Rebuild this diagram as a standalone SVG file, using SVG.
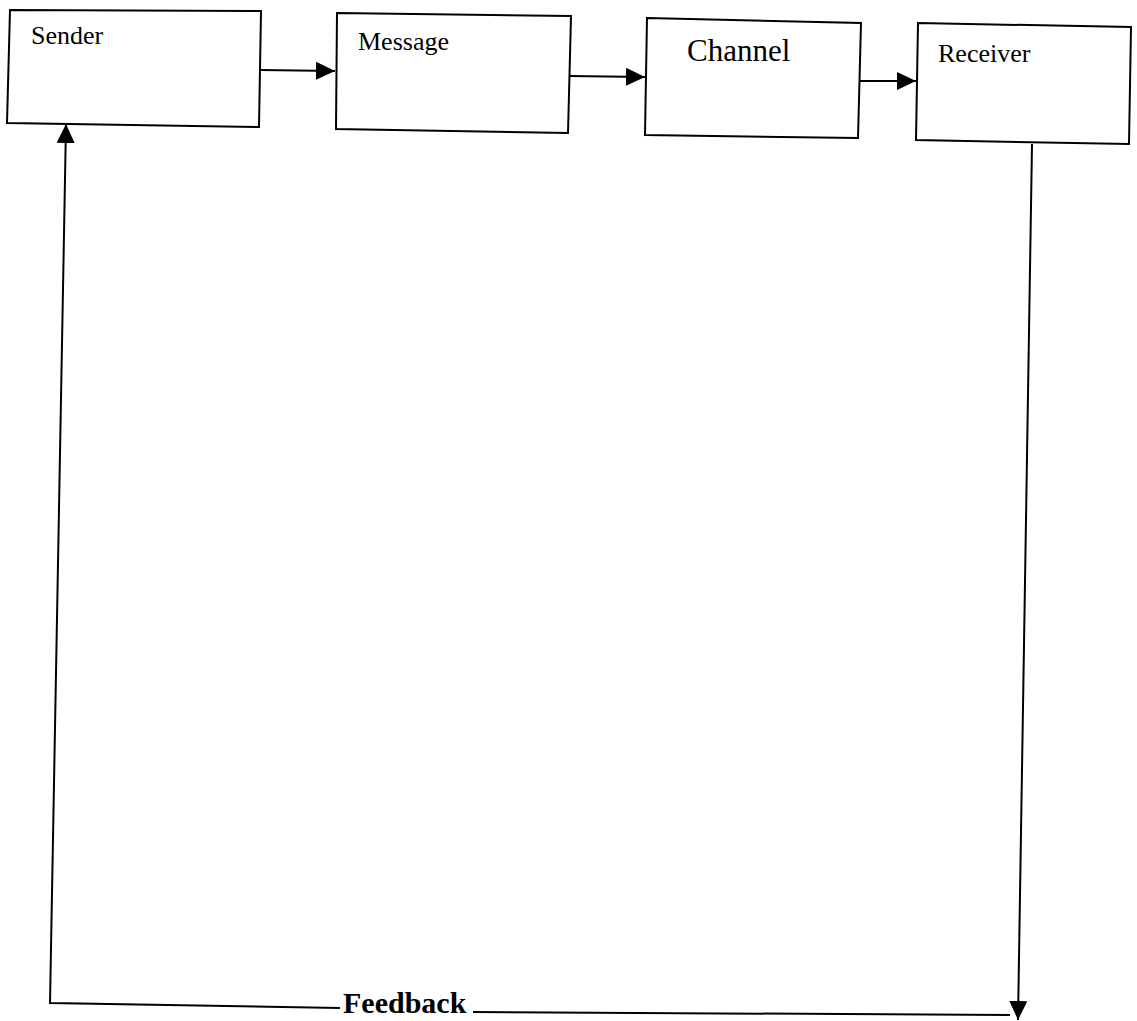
<svg xmlns="http://www.w3.org/2000/svg" width="1137" height="1021" viewBox="0 0 1137 1021">
<style>
.box{fill:#fff;stroke:#000;stroke-width:2}
.lbl{font-family:"Liberation Serif","Times New Roman",serif;fill:#000}
.conn{fill:none;stroke:#000;stroke-width:2}
</style>
<defs>
<marker id="ah" markerUnits="userSpaceOnUse" markerWidth="20" markerHeight="20" viewBox="0 0 20 18" refX="19" refY="9" orient="auto">
<path d="M0,0 L19,9 L0,18 z" fill="#000"/>
</marker>
</defs>
<rect width="1137" height="1021" fill="#fff"/>
<g id="sender">
<polygon class="box" points="10,10 261,11 259,127 7,123"/>
<text class="lbl" x="31" y="44" font-size="26">Sender</text>
</g>
<g id="message">
<polygon class="box" points="337,13 571,16 568,133 336,129"/>
<text class="lbl" x="358" y="50" font-size="26">Message</text>
</g>
<g id="channel">
<polygon class="box" points="647,18 861,23 858,138 645,135"/>
<text class="lbl" x="687" y="61" font-size="31">Channel</text>
</g>
<g id="receiver">
<polygon class="box" points="918,23 1131,27 1129,144 916,140"/>
<text class="lbl" x="938" y="62" font-size="26">Receiver</text>
</g>
<g id="connectors">
<path class="conn" d="M261,70 L335,71" marker-end="url(#ah)"/>
<path class="conn" d="M569,76 L645,77" marker-end="url(#ah)"/>
<path class="conn" d="M860,81 L916,81" marker-end="url(#ah)"/>
<path class="conn" d="M1032,144 L1018,1020" marker-end="url(#ah)"/>
<path class="conn" d="M340,1008 L50,1003 L66,124" marker-end="url(#ah)"/>
<path class="conn" d="M473,1012 L1010,1015"/>
<text class="lbl" x="343" y="1013" font-size="30" font-weight="bold">Feedback</text>
</g>
</svg>
